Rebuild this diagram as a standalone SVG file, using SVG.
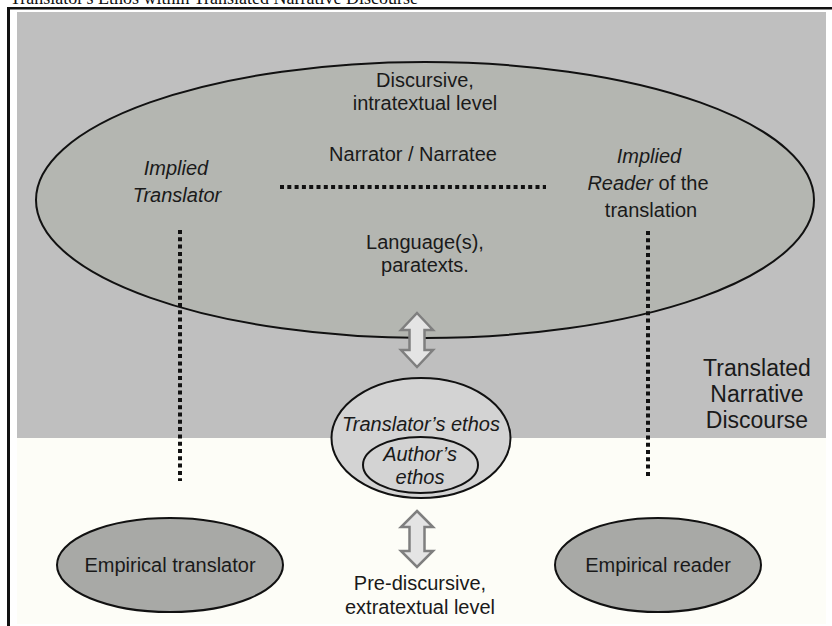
<svg xmlns="http://www.w3.org/2000/svg" width="832" height="626" viewBox="0 0 832 626">
<style>
.t{font-family:"Liberation Sans",Arial,sans-serif;font-size:20px;fill:#1a1a1a;text-anchor:middle}
.i{font-style:italic}
.dot{stroke:#111;stroke-width:4;stroke-dasharray:4 3.3;fill:none}
.ell{stroke:#111;stroke-width:2}
.arr{fill:#e4e4e4;stroke:#7f7f7f;stroke-width:2.5;stroke-linejoin:miter}
</style>
<rect x="0" y="0" width="832" height="626" fill="#ffffff"/>
<text x="10" y="4" style="font-family:'Liberation Serif','Times New Roman',serif;font-size:18px;fill:#111">Translator's Ethos within Translated Narrative Discourse</text>
<g id="frame">
<rect x="17" y="12" width="809" height="426" fill="#bfbfbf"/>
<rect x="17" y="438" width="809" height="186" fill="#fdfdf7"/>
<rect x="7" y="7" width="825" height="2.5" fill="#111"/>
<rect x="7" y="7" width="3" height="619" fill="#111"/>
</g>
<g id="discourse-label">
<text class="t" x="757" y="376" style="font-size:23px">Translated</text>
<text class="t" x="757" y="402" style="font-size:23px">Narrative</text>
<text class="t" x="757" y="428" style="font-size:23px">Discourse</text>
</g>
<g id="discursive-level">
<ellipse class="ell" cx="425" cy="200" rx="389" ry="138" fill="#b4b6b1"/>
<text class="t" x="425" y="87">Discursive,</text>
<text class="t" x="425" y="110">intratextual level</text>
<text class="t" x="413" y="161">Narrator / Narratee</text>
<text class="t" x="425" y="249">Language(s),</text>
<text class="t" x="425" y="272">paratexts.</text>
</g>
<g id="implied-translator">
<text class="t i" x="176" y="175">Implied</text>
<text class="t i" x="177" y="202">Translator</text>
</g>
<g id="implied-reader">
<text class="t i" x="649" y="163">Implied</text>
<text class="t" x="648" y="190"><tspan font-style="italic">Reader</tspan> of the</text>
<text class="t" x="651" y="217">translation</text>
</g>
<g id="connectors">
<line class="dot" x1="280" y1="187" x2="546" y2="187"/>
<line class="dot" x1="180" y1="230" x2="180" y2="481"/>
<line class="dot" x1="648" y1="231" x2="648" y2="478"/>
<polygon class="arr" points="417,313 433,330 424.5,330 424.5,350 433,350 417,367 401,350 409.5,350 409.5,330 401,330"/>
<polygon class="arr" points="417,511 433,527 424.5,527 424.5,551 433,551 417,567 401,551 409.5,551 409.5,527 401,527"/>
</g>
<g id="translator-ethos">
<ellipse class="ell" cx="421" cy="438" rx="89.5" ry="60" fill="#d3d3d3"/>
<text class="t i" x="421" y="431">Translator’s ethos</text>
</g>
<g id="author-ethos">
<ellipse class="ell" cx="420.5" cy="465" rx="57.5" ry="28" fill="#d3d3d3"/>
<text class="t i" x="420" y="461">Author’s</text>
<text class="t i" x="420" y="484">ethos</text>
</g>
<g id="pre-discursive">
<text class="t" x="420" y="590">Pre-discursive,</text>
<text class="t" x="420" y="614">extratextual level</text>
</g>
<g id="empirical-translator">
<ellipse class="ell" cx="170" cy="565" rx="113" ry="47" fill="#a8a9a6"/>
<text class="t" x="170" y="572">Empirical translator</text>
</g>
<g id="empirical-reader">
<ellipse class="ell" cx="658" cy="565" rx="103" ry="47" fill="#a8a9a6"/>
<text class="t" x="658" y="572">Empirical reader</text>
</g>
</svg>
